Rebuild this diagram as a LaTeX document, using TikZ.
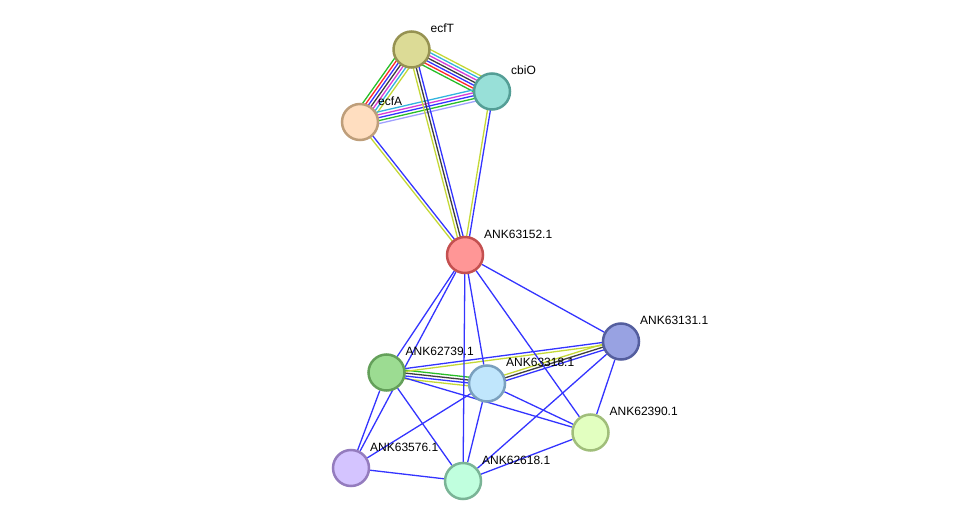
\documentclass[tikz,border=0pt]{standalone}
\usepackage{fontspec}
\setmainfont{Liberation Sans}
\usetikzlibrary{calc,backgrounds}

% node colours
\definecolor{ecfTfill}{RGB}{220,219,150}  \definecolor{ecfTdraw}{RGB}{150,146,82}
\definecolor{cbiOfill}{RGB}{152,224,216}  \definecolor{cbiOdraw}{RGB}{84,158,150}
\definecolor{ecfAfill}{RGB}{255,222,192}  \definecolor{ecfAdraw}{RGB}{190,158,122}
\definecolor{redfill}{RGB}{255,150,150}   \definecolor{reddraw}{RGB}{196,80,80}
\definecolor{navyfill}{RGB}{152,162,226}  \definecolor{navydraw}{RGB}{84,94,158}
\definecolor{grnfill}{RGB}{156,220,146}   \definecolor{grndraw}{RGB}{100,160,90}
\definecolor{skyfill}{RGB}{192,230,252}   \definecolor{skydraw}{RGB}{122,160,190}
\definecolor{limefill}{RGB}{226,255,192}  \definecolor{limedraw}{RGB}{160,190,122}
\definecolor{lilacfill}{RGB}{212,196,255} \definecolor{lilacdraw}{RGB}{148,124,190}
\definecolor{mintfill}{RGB}{192,255,222}  \definecolor{mintdraw}{RGB}{122,180,150}
% edge colours
\definecolor{eblue}{RGB}{52,52,255}
\definecolor{eyel}{RGB}{196,216,54}
\definecolor{edark}{RGB}{62,62,62}
\definecolor{egreen}{RGB}{40,190,40}
\definecolor{ered}{RGB}{255,40,40}
\definecolor{emag}{RGB}{214,60,214}
\definecolor{ecyan}{RGB}{50,180,222}
\definecolor{elav}{RGB}{160,160,255}

\tikzset{
  prot/.style={circle, minimum size=36pt, inner sep=0pt, line width=2.5pt},
  lbl/.style={anchor=west, inner sep=0pt, font=\fontsize{12}{14}\selectfont},
  edge/.style={line width=1.3pt},
}

% parallel lines between two nodes, one per colour
\newcommand\ebundle[4]{%
  \foreach \c [count=\i, evaluate=\i as \o using (\i-(#3+1)/2)*2.9] in {#4}
    \draw[edge, \c] ($(#1)!\o pt!-90:(#2)$) -- ($(#2)!\o pt!90:(#1)$);
}

\begin{document}
\begin{tikzpicture}[x=1pt, y=-1pt]
  \useasboundingbox (0,0) rectangle (976,526);

  % Proteins
  \node[prot, fill=ecfTfill, draw=ecfTdraw] (ecfT) at (411.5,49.5) {};
  \node[prot, fill=cbiOfill, draw=cbiOdraw] (cbiO) at (492,91.5) {};
  \node[prot, fill=ecfAfill, draw=ecfAdraw] (ecfA) at (360,122) {};
  \node[prot, fill=redfill, draw=reddraw] (n63152) at (465,255) {};
  \node[prot, fill=navyfill, draw=navydraw] (n63131) at (621,341.5) {};
  \node[prot, fill=grnfill, draw=grndraw] (n62739) at (386.5,372.5) {};
  \node[prot, fill=skyfill, draw=skydraw] (n63318) at (487,383.5) {};
  \node[prot, fill=limefill, draw=limedraw] (n62390) at (590.5,432.5) {};
  \node[prot, fill=lilacfill, draw=lilacdraw] (n63576) at (351,468) {};
  \node[prot, fill=mintfill, draw=mintdraw] (n62618) at (463,481) {};

  % Labels
  \node[lbl] (ecfTl) at ($(ecfT)+(19,-21)$) {ecfT};
  \node[lbl] (cbiOl) at ($(cbiO)+(19,-21)$) {cbiO};
  \node[lbl] (ecfAl) at ($(ecfA)+(18,-21)$) {ecfA};
  \node[lbl] (n63152l) at ($(n63152)+(19,-21)$) {ANK63152.1};
  \node[lbl] (n63131l) at ($(n63131)+(19,-21)$) {ANK63131.1};
  \node[lbl] (n62739l) at ($(n62739)+(19,-21)$) {ANK62739.1};
  \node[lbl] (n63318l) at ($(n63318)+(19,-21)$) {ANK63318.1};
  \node[lbl] (n62390l) at ($(n62390)+(19,-21)$) {ANK62390.1};
  \node[lbl] (n63576l) at ($(n63576)+(19,-21)$) {ANK63576.1};
  \node[lbl] (n62618l) at ($(n62618)+(19,-21)$) {ANK62618.1};

  \begin{scope}[on background layer]
    % Top cluster
    \ebundle{ecfT}{cbiO}{7}{eyel,ecyan,emag,edark,eblue,ered,egreen}
    \ebundle{ecfT}{ecfA}{7}{eyel,ecyan,emag,edark,eblue,ered,egreen}
    \ebundle{ecfA}{cbiO}{5}{ecyan,emag,eblue,egreen,elav}
    \ebundle{n63152}{ecfT}{3}{eyel,edark,eblue}
    \ebundle{n63152}{cbiO}{2}{eyel,eblue}
    \ebundle{n63152}{ecfA}{2}{eyel,eblue}

    % Bottom cluster
    \ebundle{n62739}{n63318}{4}{egreen,edark,eblue,eyel}
    \ebundle{n63318}{n63131}{3}{eyel,edark,eblue}
    \ebundle{n62739}{n63131}{2}{eblue,eyel}
    \foreach \a/\b in {n63152/n63131, n63152/n62739, n63152/n63576, n63152/n63318,
                       n63152/n62618, n63152/n62390, n62739/n62390, n62739/n63576,
                       n62739/n62618, n63318/n63576, n63318/n62618, n63318/n62390,
                       n63131/n62390, n63131/n62618, n62390/n62618, n63576/n62618}
      \draw[edge, eblue] (\a) -- (\b);
  \end{scope}
\end{tikzpicture}
\end{document}
